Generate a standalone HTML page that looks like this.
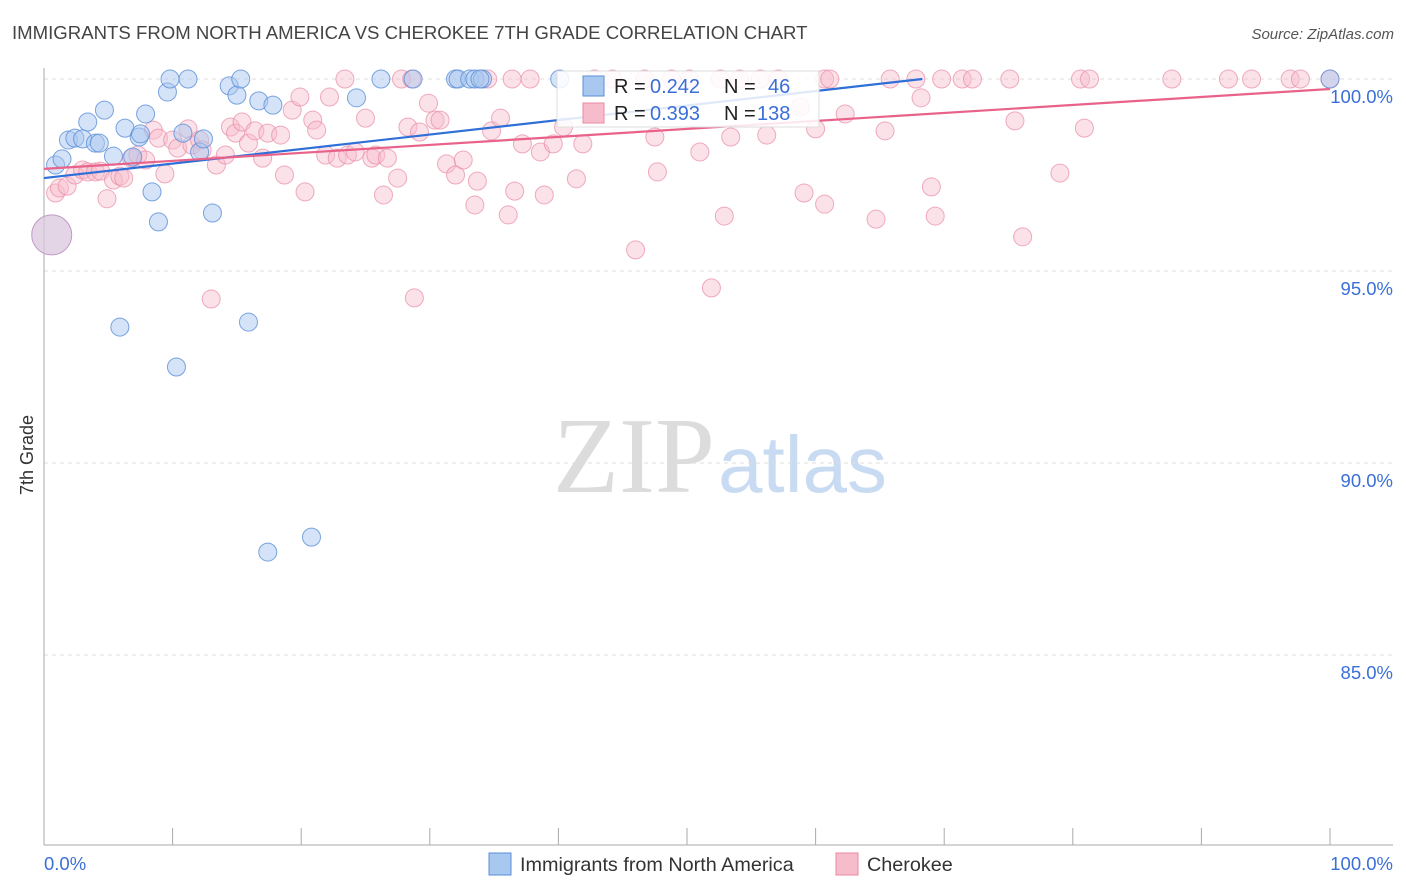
<!DOCTYPE html>
<html><head><meta charset="utf-8"><style>
body{margin:0;background:#fff;font-family:"Liberation Sans",sans-serif;}
svg{display:block}
</style></head><body>
<svg id="chart" width="1406" height="892">
<text x="12" y="39" font-size="18.6" fill="#444">IMMIGRANTS FROM NORTH AMERICA VS CHEROKEE 7TH GRADE CORRELATION CHART</text>
<text x="1394" y="39" font-size="15" fill="#555" font-style="italic" text-anchor="end">Source: ZipAtlas.com</text>
<text x="33" y="455" font-size="18" fill="#333" transform="rotate(-90 33 455)" text-anchor="middle">7th Grade</text>
<g>
<text x="553" y="492" font-size="108" fill="#dcdcdc" font-family="Liberation Serif,serif">ZIP</text>
<text x="718" y="492" font-size="80" fill="#c9dbf2">atlas</text>
</g>
<g id="grid"></g>
<g id="marks"></g>
<g id="lines"></g>
<g>
<rect x="557" y="71" width="262" height="56" fill="#fff" fill-opacity="0.85" stroke="#ddd"/>
<rect x="583" y="76" width="21" height="20" fill="#a9c8f0" stroke="#5b8fd8"/>
<rect x="583" y="103" width="21" height="20" fill="#f6bccb" stroke="#e88aa5"/>
<text y="93" font-size="20" fill="#222"><tspan x="614">R =</tspan><tspan x="650" fill="#3b6fd8">0.242</tspan><tspan x="724">N =</tspan><tspan x="768" fill="#3b6fd8">46</tspan></text>
<text y="120" font-size="20" fill="#222"><tspan x="614">R =</tspan><tspan x="650" fill="#3b6fd8">0.393</tspan><tspan x="724">N =</tspan><tspan x="757" fill="#3b6fd8">138</tspan></text>
</g>
<g>
<rect x="489" y="853" width="22" height="22" fill="#a9c8f0" stroke="#5b8fd8"/>
<text x="520" y="871" font-size="19.8" fill="#333">Immigrants from North America</text>
<rect x="836" y="853" width="22" height="22" fill="#f6bccb" stroke="#e88aa5"/>
<text x="867" y="871" font-size="19.8" fill="#333">Cherokee</text>
</g>
</svg>
<script>
const yTicks=[100,95,90,85];
const yTickLabels=["100.0%","95.0%","90.0%","85.0%"];
const blueX=[0.9,1.4,1.9,2.4,3.0,3.4,4.0,4.3,4.7,5.4,6.3,6.9,7.4,7.9,8.4,8.9,9.6,9.8,10.3,10.8,11.2,12.1,12.4,13.1,14.4,15.0,15.3,15.9,16.7,17.4,17.8,20.8,24.3,26.2,28.7,32.0,32.2,33.1,33.5,34.1,5.9,40.1,100,33.9,7.5];
const blueY=[97.76,97.92,98.41,98.46,98.44,98.88,98.33,98.33,99.19,97.99,98.72,97.97,98.49,99.09,97.06,96.28,99.66,100,92.5,98.59,100,98.1,98.44,96.51,99.82,99.58,100,93.67,99.43,87.68,99.32,88.07,99.51,100,100,100,100,100,100,100,93.54,100,100,100,98.57];
const pinkX=[0.9,1.2,1.8,2.4,3.0,3.4,4.0,4.4,4.9,5.4,5.9,6.2,6.8,7.3,7.9,8.5,8.9,9.4,10.0,10.4,11.2,11.5,12.1,12.3,13.0,13.4,14.1,14.5,14.9,15.4,15.9,16.4,17.0,17.4,18.4,18.7,19.3,19.9,20.3,20.9,21.2,21.9,22.2,22.8,23.4,23.6,24.2,25.0,25.5,25.8,26.4,26.7,27.5,27.8,28.3,28.6,28.8,29.2,29.9,30.4,30.8,31.3,32.0,32.6,33.5,33.7,34.5,34.8,35.5,36.1,36.4,36.6,37.2,37.8,38.6,38.9,39.6,40.4,41.4,41.9,42.8,44.2,46.0,46.7,47.5,47.7,48.8,50.2,51.0,51.9,52.6,52.9,53.4,54.1,55.7,56.2,57.1,58.8,59.1,60.0,60.7,60.7,61.1,62.3,64.7,65.4,65.8,67.8,68.2,69.0,69.3,69.8,71.4,72.2,75.1,75.5,76.1,79.0,80.6,80.9,81.3,87.7,92.1,93.9,96.9,97.7,100];
const pinkY=[97.03,97.16,97.21,97.5,97.63,97.58,97.58,97.6,96.88,97.37,97.47,97.42,97.94,98.02,97.89,98.67,98.46,97.53,98.41,98.2,98.7,98.28,98.41,98.15,94.27,97.76,98.02,98.75,98.59,98.88,98.33,98.65,97.94,98.59,98.54,97.5,99.19,99.53,97.06,98.93,98.67,98.02,99.53,97.94,100,98.02,98.1,98.98,97.94,98.02,96.98,97.94,97.42,100,98.75,100,94.3,98.62,99.37,98.93,98.93,97.79,97.5,97.89,96.72,97.34,100,98.65,98.98,96.46,100,97.08,98.31,100,98.1,96.98,98.31,98.75,97.4,98.31,100,100,95.55,100,98.49,97.58,100,100,98.1,94.56,100,96.43,98.49,100,100,98.54,100,99.27,97.03,98.7,100,96.74,100,99.09,96.35,98.65,100,100,99.51,97.19,96.43,100,100,100,100,98.91,95.89,97.55,100,98.72,100,100,100,100,100,100,100];
const trendBlue=[[0,97.42],[68.3,100]];
const trendPink=[[0,97.66],[100,99.74]];
const NS='http://www.w3.org/2000/svg';
const X=v=>44+v*12.86, Y=v=>79+(100-v)*38.4;
function mk(tag,attrs,parent){const e=document.createElementNS(NS,tag);for(const k in attrs)e.setAttribute(k,attrs[k]);parent.appendChild(e);return e;}
const grid=document.getElementById('grid'),marks=document.getElementById('marks'),lines=document.getElementById('lines');
yTicks.forEach((t,i)=>{
 const l=mk('line',{x1:44,x2:1393,y1:Y(t),y2:Y(t),stroke:'#ddd','stroke-dasharray':'4,4'},grid);
 
 
 const tx=mk('text',{x:1393,y:Y(t)+24,'font-size':18.5,fill:'#3b6fd8','text-anchor':'end'},grid);
 tx.textContent=yTickLabels[i];
 
 
});
const ax=mk('line',{x1:44,x2:44,y1:68,y2:845,stroke:'#aaa'},grid);


const bx=mk('line',{x1:44,x2:1393,y1:845,y2:845,stroke:'#aaa'},grid);


for(let i=0;i<=10;i++){const t=mk('line',{x1:X(i*10),x2:X(i*10),y1:828,y2:845,stroke:'#aaa'},grid);
 
 }
[['0.0%',44,'start'],['100.0%',1393,'end']].forEach(a=>{const t=mk('text',{x:a[1],y:870,'font-size':18.5,fill:'#3b6fd8','text-anchor':a[2]},grid);t.textContent=a[0];
 
 });
pinkX.forEach((x,i)=>{const c=mk('circle',{cx:X(x),cy:Y(pinkY[i]),r:9,fill:'#f6bccb','fill-opacity':0.45,stroke:'#e88aa5','stroke-opacity':0.7},marks);
 
 });
blueX.forEach((x,i)=>{const c=mk('circle',{cx:X(x),cy:Y(blueY[i]),r:9,fill:'#a9c8f0','fill-opacity':0.5,stroke:'#5b8fd8','stroke-opacity':0.8},marks);
 
 });
const big=mk('circle',{cx:X(0.6),cy:Y(95.94),r:20,fill:'#d9c6de','fill-opacity':0.75,stroke:'#c09ac4'},marks);


const lb=mk('line',{x1:X(trendBlue[0][0]),y1:Y(trendBlue[0][1]),x2:X(trendBlue[1][0]),y2:Y(trendBlue[1][1]),stroke:'#2f6fd8','stroke-width':2.2},lines);


const lp=mk('line',{x1:X(trendPink[0][0]),y1:Y(trendPink[0][1]),x2:X(trendPink[1][0]),y2:Y(trendPink[1][1]),stroke:'#e8628a','stroke-width':2.2},lines);


</script>
</body></html>
